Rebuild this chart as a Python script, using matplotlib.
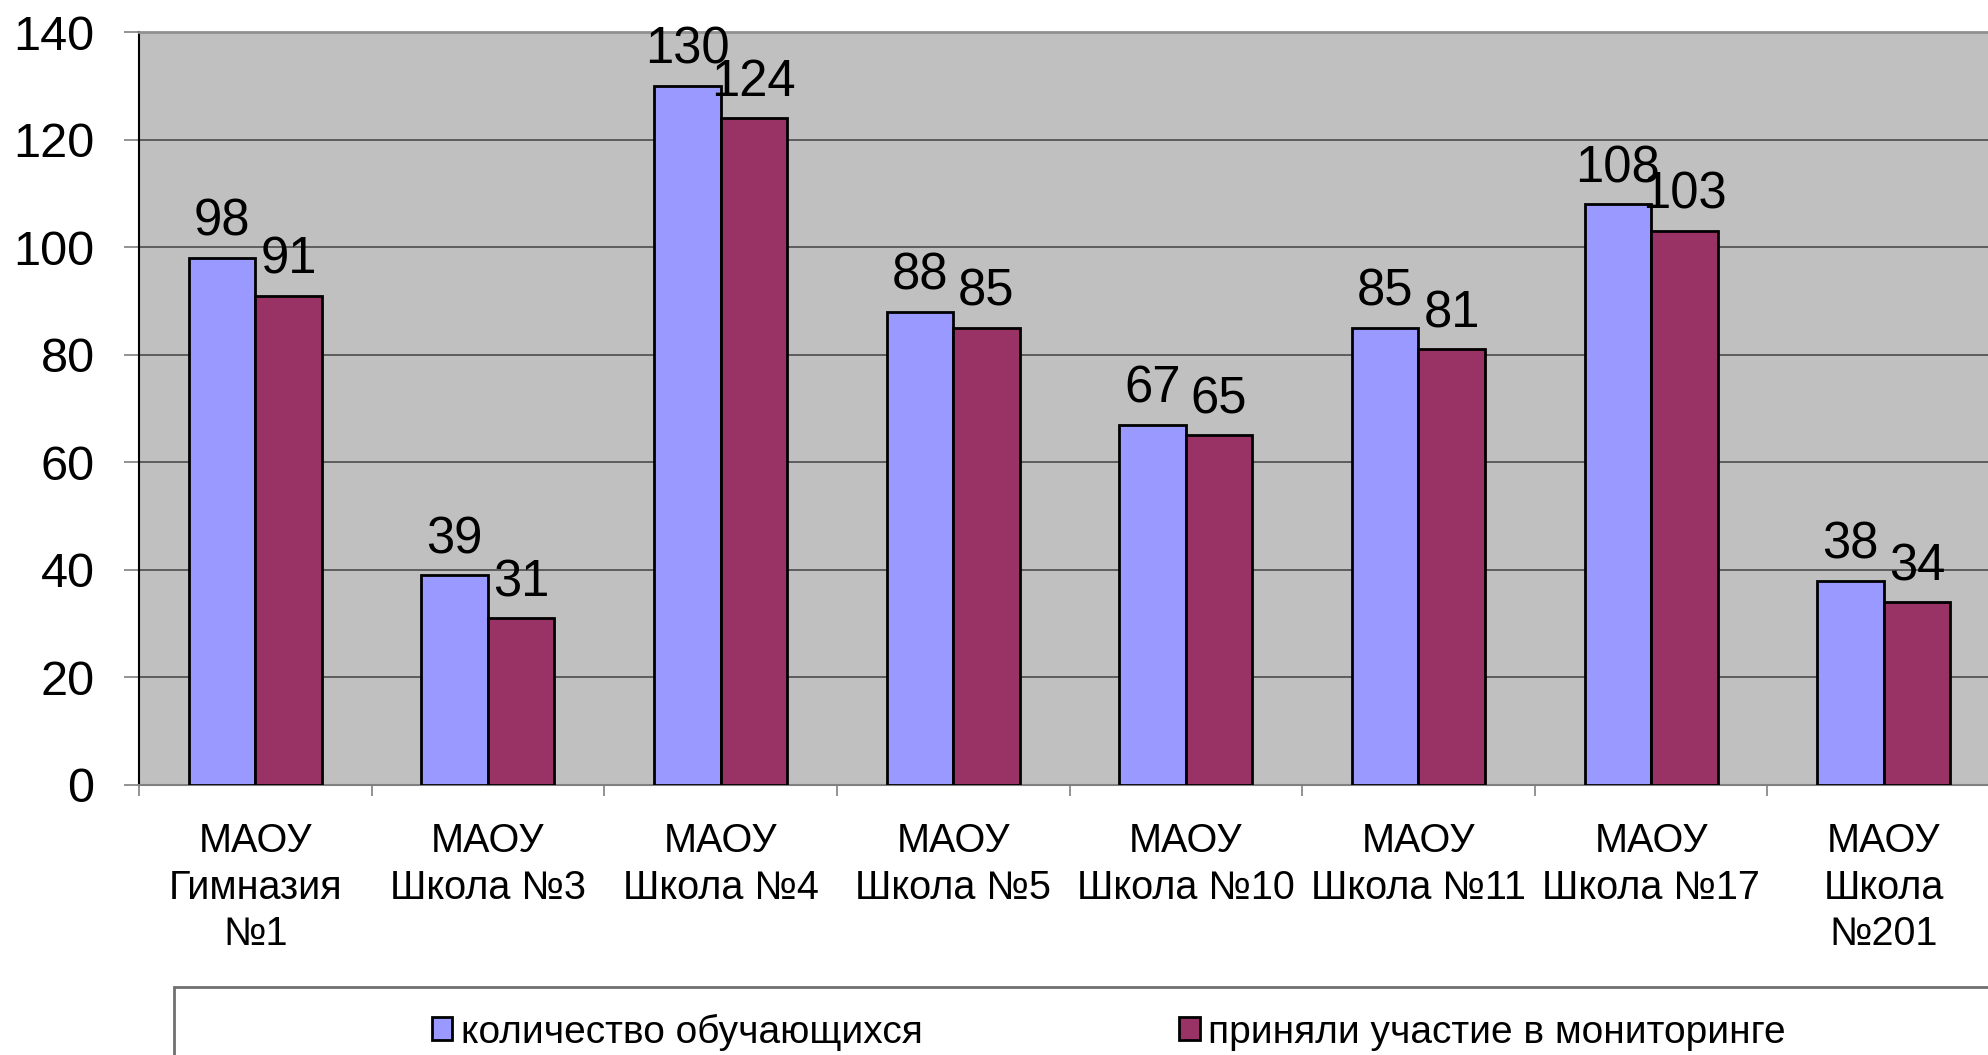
import numpy as np
import matplotlib
matplotlib.use("Agg")
import matplotlib.pyplot as plt
from matplotlib.patches import Rectangle

plt.rcParams['font.family'] = ['Liberation Sans', 'DejaVu Sans']

# data
schools = ['МАОУ\nГимназия\n№1', 'МАОУ\nШкола №3', 'МАОУ\nШкола №4', 'МАОУ\nШкола №5',
           'МАОУ\nШкола №10', 'МАОУ\nШкола №11', 'МАОУ\nШкола №17', 'МАОУ\nШкола\n№201']
students = [98, 39, 130, 88, 67, 85, 108, 38]
took_part = [91, 31, 124, 85, 65, 81, 103, 34]
series_names = ['количество обучающихся', 'приняли участие в мониторинге']

fig = plt.figure(figsize=(19.88, 10.55), dpi=100)
ax = fig.add_axes([139 / 1988, 1 - 785 / 1055, (2000 - 139) / 1988, (785 - 32) / 1055])
ax.set_facecolor('#C0C0C0')

x = np.arange(len(schools))
w = 0.286
b1 = ax.bar(x - w / 2, students, w, color='#9999FF', edgecolor='black', linewidth=2, zorder=3)
b2 = ax.bar(x + w / 2, took_part, w, color='#993366', edgecolor='black', linewidth=2, zorder=3)

for bars, vals in ((b1, students), (b2, took_part)):
    for r, v in zip(bars, vals):
        ax.annotate(str(v), (r.get_x() + r.get_width() / 2, v), xytext=(0, 8),
                    textcoords='offset points', ha='center', va='bottom', fontsize=36.5)

ax.set_xlim(-0.5, len(schools) - 0.5)
ax.set_ylim(0, 140)
ax.set_yticks(range(0, 141, 20))
ax.tick_params(axis='y', labelsize=35, length=11, width=1.2, color='#808080', pad=21)
ax.yaxis.grid(True, color='#555555', linewidth=1.3, zorder=0)

# boundaries between schools as major ticks, names under the centres
ax.set_xticks(np.arange(-0.5, len(schools), 1))
ax.set_xticklabels([])
ax.set_xticks(x, minor=True)
ax.set_xticklabels(schools, minor=True, fontsize=28.5, linespacing=1.27)
ax.tick_params(axis='x', which='major', length=8, width=1.2, color='#808080')
ax.tick_params(axis='x', which='minor', length=0, pad=27)

ax.spines['left'].set_color('black')
ax.spines['left'].set_linewidth(1.5)
ax.spines['bottom'].set_color('#808080')
ax.spines['bottom'].set_linewidth(1.5)
ax.spines['top'].set_color('#909090')
ax.spines['top'].set_linewidth(2)
ax.spines['right'].set_visible(False)

# legend frame runs off the bottom right of the picture
fig.patches.append(Rectangle((174 / 1988, -0.1), 2.0, 1 - 987 / 1055 + 0.1,
                             transform=fig.transFigure, fill=False,
                             edgecolor='#707070', linewidth=2))
fig.legend([b1[0], b2[0]], series_names, loc='center', bbox_to_anchor=(1109 / 1988, 1 - 1032 / 1055),
           ncol=2, frameon=False, fontsize=28, handlelength=0.52, handleheight=0.52,
           handletextpad=0.22, columnspacing=6.6, borderpad=0)

plt.savefig('out.png', dpi=100)
